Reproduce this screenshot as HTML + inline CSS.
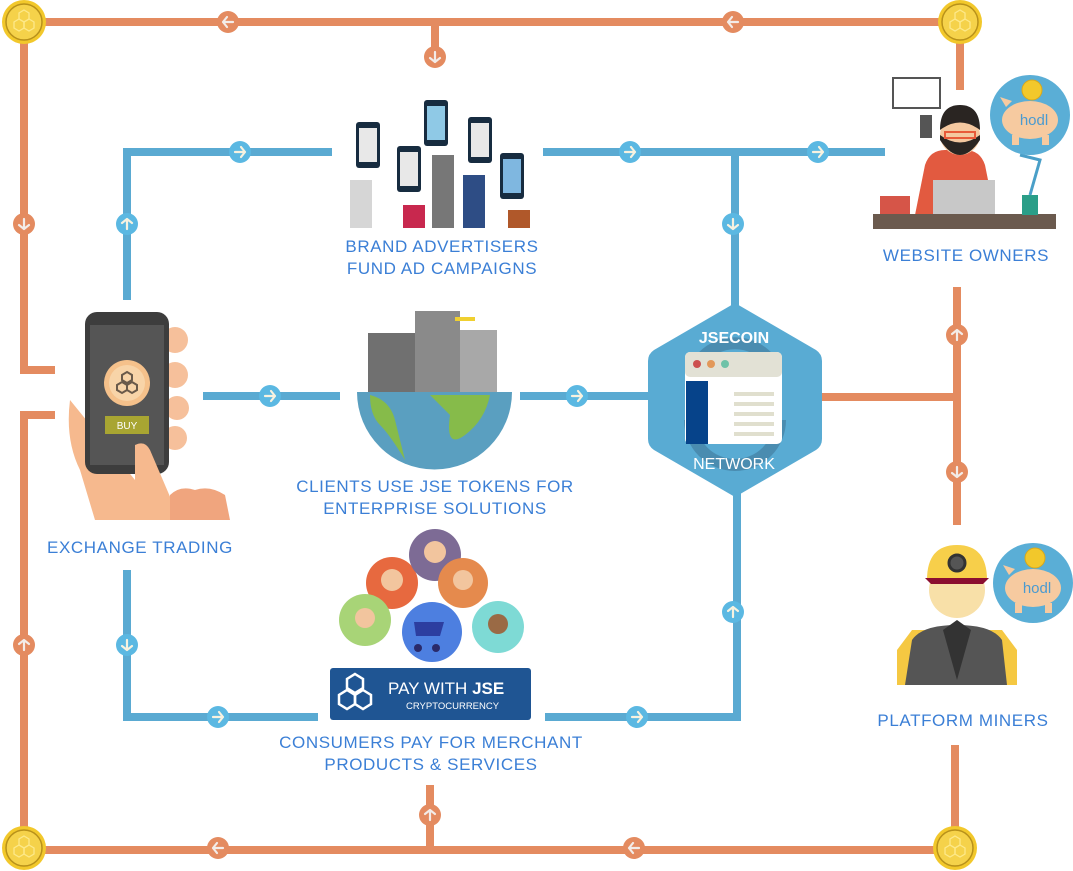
<!DOCTYPE html>
<html><head><meta charset="utf-8"><style>
html,body{margin:0;padding:0;background:#fff;}
svg{display:block}
.t{font-family:"Liberation Sans",sans-serif;font-size:17px;fill:#3b7fd6;text-anchor:middle;letter-spacing:0.6px}
</style></head><body>
<svg width="1073" height="871" viewBox="0 0 1073 871" xmlns="http://www.w3.org/2000/svg">
<defs>
<g id="ao"><circle r="11" fill="#e48b60"/><path d="M-5 0H5M-1-5L-5 0L-1 5" stroke="#f3ece8" stroke-width="2.2" fill="none" stroke-linecap="round" stroke-linejoin="round"/></g>
<g id="ab"><circle r="11" fill="#5bb8e2"/><path d="M-5 0H5M1-5L5 0L1 5" stroke="#f7f2e0" stroke-width="2.2" fill="none" stroke-linecap="round" stroke-linejoin="round"/></g>
<g id="coin"><circle r="22" fill="#f2c82b"/><circle r="18" fill="#f5d24a" stroke="#b8911b" stroke-width="1.5"/><g fill="none" stroke="#fde98a" stroke-width="1.3"><path d="M0-12l5 3v6l-5 3-5-3v-6z"/><path d="M-5-3l5 3v6l-5 3-5-3v-6z"/><path d="M5-3l5 3v6l-5 3-5-3v-6z"/></g></g>
<g id="pig"><circle r="40" fill="#5aaed6"/><circle cx="2" cy="-25" r="10" fill="#f2c82b" stroke="#d8a81b"/><ellipse cx="0" cy="5" rx="28" ry="19" fill="#f6caa0"/><path d="M-24-8l-6-10 12 4z" fill="#f6caa0"/><rect x="-18" y="20" width="7" height="10" fill="#f6caa0"/><rect x="12" y="20" width="7" height="10" fill="#f6caa0"/><text x="4" y="10" font-family="Liberation Sans,sans-serif" font-size="15" fill="#4a9ad0" text-anchor="middle">hodl</text></g>
</defs>
<g stroke="#e48b60" stroke-width="8" fill="none">
<path d="M24 22H960V90"/>
<path d="M435 22V62"/>
<path d="M24 22V370H55"/>
<path d="M55 415H24V850H955V745"/>
<path d="M430 850V785"/>
<path d="M957 287V525"/>
<path d="M818 397H957"/>
</g>
<g stroke="#5aaad2" stroke-width="8" fill="none">
<path d="M127 300V152H332"/>
<path d="M543 152H885"/>
<path d="M735 152V320"/>
<path d="M203 396H340"/>
<path d="M520 396H660"/>
<path d="M127 570V717H318"/>
<path d="M545 717H737V480"/>
</g>
<use href="#coin" x="24" y="22"/><use href="#coin" x="960" y="22"/><use href="#coin" x="24" y="848"/><use href="#coin" x="955" y="848"/>
<use href="#ao" transform="translate(228,22)"/><use href="#ao" transform="translate(733,22)"/>
<use href="#ao" transform="translate(435,57) rotate(-90)"/><use href="#ao" transform="translate(24,224) rotate(-90)"/>
<use href="#ao" transform="translate(24,645) rotate(90)"/><use href="#ao" transform="translate(218,848)"/>
<use href="#ao" transform="translate(634,848)"/><use href="#ao" transform="translate(430,815) rotate(90)"/>
<use href="#ao" transform="translate(957,335) rotate(90)"/><use href="#ao" transform="translate(957,472) rotate(-90)"/>
<use href="#ab" transform="translate(240,152)"/><use href="#ab" transform="translate(127,224) rotate(-90)"/>
<use href="#ab" transform="translate(630,152)"/><use href="#ab" transform="translate(818,152)"/>
<use href="#ab" transform="translate(733,224) rotate(90)"/><use href="#ab" transform="translate(270,396)"/>
<use href="#ab" transform="translate(577,396)"/><use href="#ab" transform="translate(127,645) rotate(90)"/>
<use href="#ab" transform="translate(218,717)"/><use href="#ab" transform="translate(637,717)"/>
<use href="#ab" transform="translate(733,612) rotate(-90)"/>
<path d="M735 303L816 350Q822 354 822 361V439Q822 446 816 450L735 497L654 450Q648 446 648 439V361Q648 354 654 350Z" fill="#59abd3"/>
<path d="M700 360a45 45 0 0 1 70 0 M690 420a40 40 0 0 0 90 0" stroke="#4a8cb0" stroke-width="12" fill="none"/>
<rect x="685" y="352" width="97" height="92" rx="5" fill="#fff"/>
<rect x="685" y="352" width="97" height="25" rx="5" fill="#e2e1d5"/>
<circle cx="697" cy="364" r="4" fill="#cc5050"/><circle cx="711" cy="364" r="4" fill="#e2985a"/><circle cx="725" cy="364" r="4" fill="#6fc2a8"/>
<rect x="686" y="381" width="22" height="63" fill="#06438a"/>
<g fill="#e0dfce"><rect x="734" y="392" width="40" height="4"/><rect x="734" y="402" width="40" height="4"/><rect x="734" y="412" width="40" height="4"/><rect x="734" y="422" width="40" height="4"/><rect x="734" y="432" width="40" height="4"/></g>
<text x="734" y="343" font-family="Liberation Sans,sans-serif" font-size="16" font-weight="bold" fill="#fff" text-anchor="middle">JSECOIN</text>
<text x="734" y="469" font-family="Liberation Sans,sans-serif" font-size="16" fill="#fff" text-anchor="middle">NETWORK</text>
<path d="M70 400q-5 40 10 70l15 50h60l-20-40z" fill="#f6b98e"/>
<circle cx="175" cy="340" r="13" fill="#f6c09b"/><circle cx="175" cy="375" r="13" fill="#f6c09b"/><circle cx="177" cy="408" r="12" fill="#f6c09b"/><circle cx="175" cy="438" r="12" fill="#f6c09b"/>
<rect x="85" y="312" width="84" height="162" rx="12" fill="#3d3d3d"/>
<rect x="90" y="325" width="74" height="140" fill="#555"/>
<circle cx="127" cy="383" r="23" fill="#f5c18b"/><circle cx="127" cy="383" r="18" fill="#f8d4a8"/>
<g fill="none" stroke="#6a5a4a" stroke-width="2"><path d="M127 372l5 3v5l-5 3-5-3v-5z"/><path d="M122 382l5 3v5l-5 3-5-3v-5z"/><path d="M132 382l5 3v5l-5 3-5-3v-5z"/></g>
<rect x="105" y="416" width="44" height="18" fill="#a8a532"/>
<text x="127" y="429" font-family="Liberation Sans,sans-serif" font-size="10" fill="#fff" text-anchor="middle">BUY</text>
<path d="M135 445q10-5 15 5l30 70h-45z" fill="#f6b98e"/><path d="M170 495q10-10 25-5 15-5 30 5l5 25h-60z" fill="#f0a57e"/>
<rect x="350" y="180" width="22" height="48" fill="#d6d6d6"/><rect x="403" y="205" width="22" height="23" fill="#c8284e"/>
<rect x="432" y="155" width="22" height="73" fill="#777"/><rect x="463" y="175" width="22" height="53" fill="#2e4d85"/><rect x="508" y="210" width="22" height="18" fill="#b0582a"/>
<g fill="#172c40"><rect x="356" y="122" width="24" height="46" rx="3"/><rect x="397" y="146" width="24" height="46" rx="3"/><rect x="424" y="100" width="24" height="46" rx="3"/><rect x="468" y="117" width="24" height="46" rx="3"/><rect x="500" y="153" width="24" height="46" rx="3"/></g>
<g fill="#e8e8e8"><rect x="359" y="128" width="18" height="34"/><rect x="400" y="152" width="18" height="34"/><rect x="427" y="106" width="18" height="34" fill="#8fc9e6"/><rect x="471" y="123" width="18" height="34"/><rect x="503" y="159" width="18" height="34" fill="#7fb7e0"/></g>
<text class="t" x="442" y="252">BRAND ADVERTISERS</text>
<text class="t" x="442" y="274">FUND AD CAMPAIGNS</text>
<rect x="368" y="333" width="47" height="60" fill="#707070"/><rect x="415" y="311" width="45" height="82" fill="#8a8a8a"/><rect x="460" y="330" width="37" height="63" fill="#a8a8a8"/>
<rect x="455" y="317" width="20" height="4" fill="#f0d030"/>
<path d="M357 392H512A77 77 0 0 1 357 392Z" fill="#5a9fc0"/>
<path d="M370 395q20 5 25 25t10 40q-15-25-25-35t-10-30zM430 395h60q-5 25-25 40t-15-20q-10-10-20-20z" fill="#86bb4a"/>
<text class="t" x="435" y="492">CLIENTS USE JSE TOKENS FOR</text>
<text class="t" x="435" y="514">ENTERPRISE SOLUTIONS</text>
<text class="t" x="140" y="553">EXCHANGE TRADING</text>
<circle cx="392" cy="583" r="26" fill="#e7693f"/><circle cx="435" cy="555" r="26" fill="#7d6b95"/><circle cx="463" cy="583" r="25" fill="#e58a4d"/>
<circle cx="365" cy="620" r="26" fill="#a8d477"/><circle cx="498" cy="627" r="26" fill="#7edad5"/><circle cx="432" cy="632" r="30" fill="#4d7fe0"/>
<g fill="#f2c59e"><circle cx="392" cy="580" r="11"/><circle cx="435" cy="552" r="11"/><circle cx="463" cy="580" r="10"/><circle cx="365" cy="618" r="10"/><circle cx="498" cy="624" r="10" fill="#9a6a45"/></g>
<path d="M414 622h30l-4 14h-24z" fill="#2c3ea0"/><circle cx="418" cy="648" r="4" fill="#2a2a6a"/><circle cx="436" cy="648" r="4" fill="#2a2a6a"/>
<rect x="330" y="668" width="201" height="52" rx="3" fill="#1f5593"/>
<g fill="none" stroke="#fff" stroke-width="2.5"><path d="M355 674l8 5v9l-8 5-8-5v-9z"/><path d="M347 690l8 5v9l-8 5-8-5v-9z"/><path d="M363 690l8 5v9l-8 5-8-5v-9z"/></g>
<text x="388" y="694" font-family="Liberation Sans,sans-serif" font-size="17" fill="#fff">PAY WITH <tspan font-weight="bold">JSE</tspan></text>
<text x="406" y="709" font-family="Liberation Sans,sans-serif" font-size="9.5" fill="#fff">CRYPTOCURRENCY</text>
<text class="t" x="431" y="748">CONSUMERS PAY FOR MERCHANT</text>
<text class="t" x="431" y="770">PRODUCTS &amp; SERVICES</text>
<rect x="893" y="78" width="47" height="30" fill="#fff" stroke="#555" stroke-width="2"/><rect x="920" y="115" width="12" height="23" fill="#555"/>
<path d="M925 165q5-15 20-15h20q15 0 20 15l10 50h-80z" fill="#e25a40"/>
<circle cx="960" cy="135" r="20" fill="#f4c8a0"/><path d="M940 140q20 30 40 0v-5q-20 15-40 0z" fill="#2a2522"/><path d="M940 130q0-25 20-25t20 25q-20-15-40 0z" fill="#2a2522"/>
<rect x="945" y="132" width="30" height="6" fill="none" stroke="#e85a3a" stroke-width="2"/>
<rect x="933" y="180" width="62" height="35" fill="#c8c8c8"/>
<rect x="873" y="214" width="183" height="15" fill="#6b5a4e"/>
<rect x="880" y="196" width="30" height="18" fill="#d65548"/><rect x="1022" y="195" width="16" height="20" fill="#2a9e88"/>
<path d="M1030 195l10-35-20-5" stroke="#4a9fc8" stroke-width="3" fill="none"/>
<use href="#pig" x="1030" y="115"/>
<text class="t" x="966" y="261">WEBSITE OWNERS</text>
<path d="M897 650l15-20h90l15 20v35H897z" fill="#f5c842"/>
<path d="M912 640q10-15 45-15t45 15l5 45H905z" fill="#555"/>
<path d="M957 620l-14 10 14 50 14-50z" fill="#333"/>
<circle cx="957" cy="590" r="28" fill="#f8e0a8"/>
<path d="M927 580q0-35 30-35t30 35z" fill="#f7cf4a"/>
<path d="M925 578h64l-6 6h-52z" fill="#8b0e30"/>
<circle cx="957" cy="563" r="8" fill="#555" stroke="#333" stroke-width="3"/>
<use href="#pig" x="1033" y="583"/>
<text class="t" x="963" y="726">PLATFORM MINERS</text>
</svg>
</body></html>
